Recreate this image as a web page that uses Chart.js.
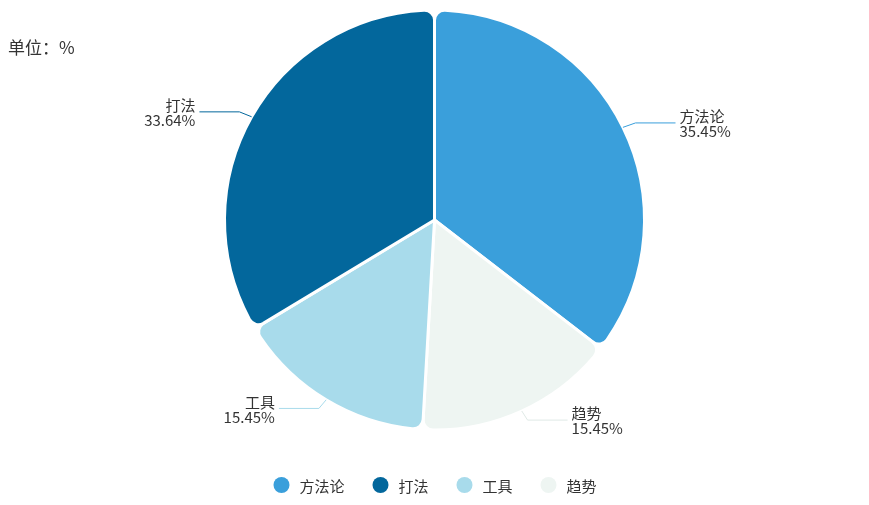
<!DOCTYPE html>
<html><head><meta charset="utf-8">
<script src="https://cdn.jsdelivr.net/npm/chart.js@4/dist/chart.umd.min.js"></script>
<style>
html,body{margin:0;padding:0;background:#fff;}
#wrap{position:relative;width:869px;height:505px;}
#unit{position:absolute;left:8px;top:34px;font:17px "Noto Sans CJK SC";color:#333;}
canvas{position:absolute;left:0;top:0;}
</style></head>
<body>
<div id="wrap"><canvas id="c" width="869" height="505"></canvas><div id="unit">单位：%</div></div>
<script>
/* data, in drawing order (clockwise from top) */
const labels = ["方法论", "趋势", "工具", "打法"];
const values = [35.45, 15.45, 15.45, 33.64];
const colors = ["#3a9fdb", "#eef5f2", "#a8dbeb", "#03679c"];
const legendOrder = ["方法论", "打法", "工具", "趋势"];

const FONT = '"Noto Sans CJK SC", "Noto Sans", sans-serif';

/* leader lines + two-line labels */
const outLabels = {
  id: 'outLabels',
  afterDatasetsDraw(chart) {
    const ctx = chart.ctx;
    chart.getDatasetMeta(0).data.forEach((arc, i) => {
      const mid = (arc.startAngle + arc.endAngle) / 2;
      const r = arc.outerRadius;
      const cx = arc.x, cy = arc.y;
      const x0 = cx + Math.cos(mid) * r, y0 = cy + Math.sin(mid) * r;
      const x1 = cx + Math.cos(mid) * (r + 14), y1 = cy + Math.sin(mid) * (r + 10);
      const right = Math.cos(mid) >= 0;
      const x2 = x1 + (right ? 40 : -40);
      ctx.save();
      ctx.strokeStyle = colors[i] === "#eef5f2" ? "#dfe9e6" : colors[i];
      ctx.lineWidth = 1;
      ctx.beginPath(); ctx.moveTo(x0, y0); ctx.lineTo(x1, y1); ctx.lineTo(x2, y1); ctx.stroke();
      ctx.fillStyle = "#333";
      ctx.font = "15px " + FONT;
      ctx.textAlign = right ? "left" : "right";
      const tx = x2 + (right ? 4 : -4);
      ctx.textBaseline = "bottom";
      ctx.fillText(labels[i], tx, y1 + 1);
      ctx.textBaseline = "top";
      ctx.fillText(values[i].toFixed(2) + "%", tx, y1 + 1);
      ctx.restore();
    });
  }
};

/* bottom legend */
const bottomLegend = {
  id: 'bottomLegend',
  afterDraw(chart) {
    const ctx = chart.ctx;
    ctx.save();
    ctx.font = "15px " + FONT;
    const items = legendOrder.map(t => ({ t, c: colors[labels.indexOf(t)], w: 26 + ctx.measureText(t).width }));
    const gap = 28;
    const total = items.reduce((s, it) => s + it.w, 0) + gap * (items.length - 1);
    let x = 435 - total / 2;
    const y = 485;
    items.forEach(it => {
      ctx.fillStyle = it.c;
      ctx.beginPath(); ctx.arc(x + 8, y, 8, 0, Math.PI * 2); ctx.fill();
      ctx.fillStyle = "#333";
      ctx.textAlign = "left"; ctx.textBaseline = "middle";
      ctx.fillText(it.t, x + 26, y + 1);
      x += it.w + gap;
    });
    ctx.restore();
  }
};

new Chart(document.getElementById("c"), {
  type: 'pie',
  data: {
    labels,
    datasets: [{ data: values, backgroundColor: colors, borderColor: "#fff", borderWidth: 3, borderRadius: 10, hoverOffset: 0 }]
  },
  options: {
    responsive: false,
    animation: false,
    devicePixelRatio: 1,
    radius: 210,
    layout: { padding: { top: 10, left: 0, right: 0, bottom: 75 } },
    plugins: {
      tooltip: { enabled: false },
      legend: { display: false }
    }
  },
  plugins: [outLabels, bottomLegend]
});
</script>
</body></html>
